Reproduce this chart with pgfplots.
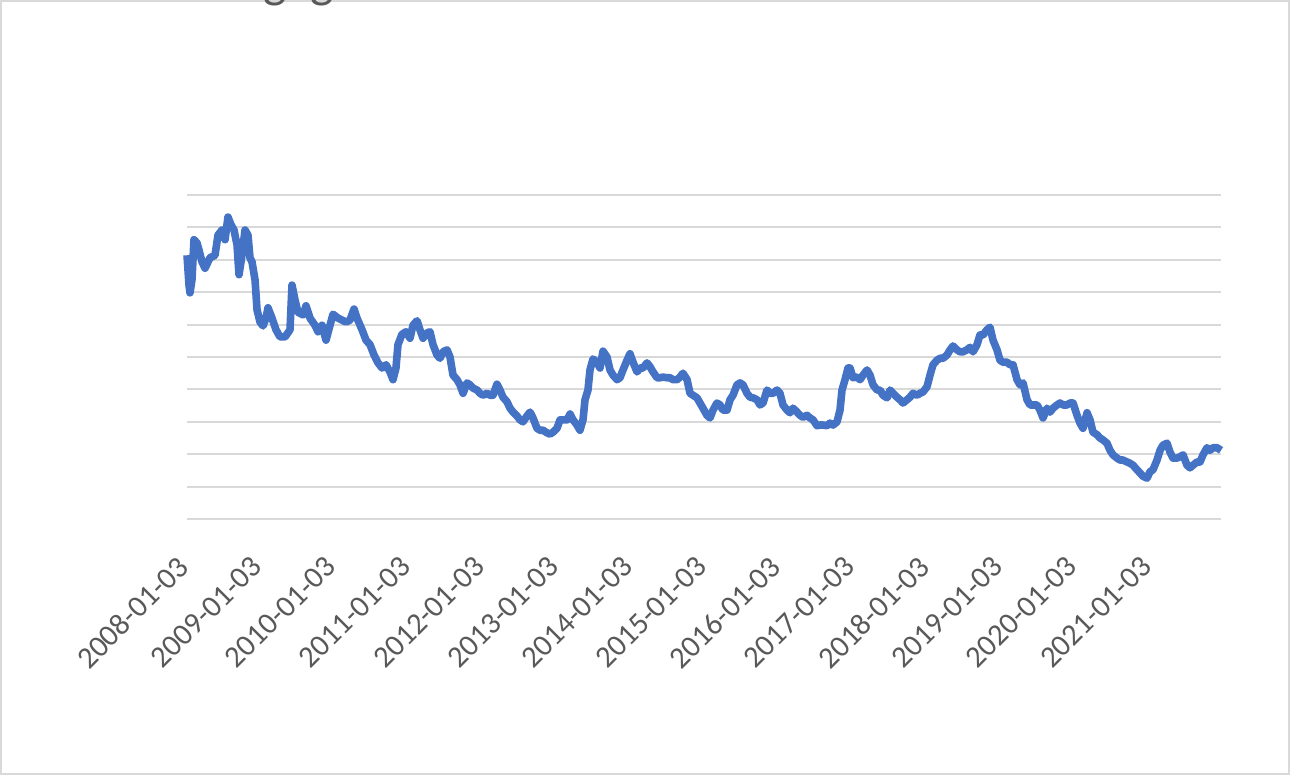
\documentclass[border=0pt]{standalone}
\usepackage{pgfplots}
\pgfplotsset{compat=1.18}
\usepackage{fontspec}
\setmainfont{Carlito}
\definecolor{lineblue}{HTML}{4472C4}
\definecolor{gridgray}{HTML}{D9D9D9}
\definecolor{textgray}{HTML}{595959}
\pgfplotstableread{
year rate
2008.000 6.07
2008.027 5.61
2008.040 5.49
2008.067 5.69
2008.094 6.31
2008.135 6.26
2008.162 6.15
2008.202 5.97
2008.243 5.87
2008.310 6.03
2008.378 6.07
2008.418 6.38
2008.472 6.46
2008.513 6.31
2008.553 6.66
2008.594 6.54
2008.634 6.46
2008.675 6.23
2008.702 5.77
2008.742 6.07
2008.783 6.46
2008.823 6.38
2008.850 6.03
2008.877 5.97
2008.918 5.69
2008.945 5.23
2008.985 5.04
2009.026 4.98
2009.066 5.10
2009.093 5.26
2009.147 5.10
2009.201 4.92
2009.255 4.81
2009.323 4.81
2009.390 4.92
2009.417 5.61
2009.457 5.38
2009.498 5.19
2009.565 5.15
2009.606 5.29
2009.660 5.10
2009.727 4.99
2009.768 4.89
2009.822 4.99
2009.876 4.76
2009.930 4.99
2009.970 5.16
2010.038 5.10
2010.092 5.07
2010.146 5.04
2010.200 5.07
2010.254 5.24
2010.294 5.10
2010.362 4.92
2010.416 4.76
2010.470 4.69
2010.524 4.53
2010.578 4.41
2010.632 4.33
2010.686 4.38
2010.739 4.27
2010.780 4.15
2010.820 4.33
2010.847 4.69
2010.901 4.85
2010.955 4.89
2011.009 4.79
2011.050 4.99
2011.104 5.06
2011.144 4.92
2011.185 4.79
2011.239 4.87
2011.279 4.89
2011.320 4.69
2011.374 4.53
2011.414 4.48
2011.455 4.58
2011.509 4.61
2011.549 4.50
2011.590 4.22
2011.644 4.15
2011.684 4.07
2011.725 3.94
2011.779 4.10
2011.819 4.07
2011.860 4.02
2011.914 3.99
2011.954 3.94
2011.994 3.91
2012.049 3.94
2012.089 3.91
2012.129 3.91
2012.183 4.08
2012.224 3.99
2012.264 3.88
2012.318 3.81
2012.359 3.71
2012.399 3.65
2012.453 3.59
2012.494 3.53
2012.534 3.50
2012.588 3.59
2012.629 3.65
2012.669 3.56
2012.723 3.40
2012.764 3.37
2012.804 3.37
2012.858 3.33
2012.899 3.31
2012.939 3.34
2012.993 3.40
2013.034 3.53
2013.074 3.53
2013.128 3.53
2013.169 3.62
2013.209 3.53
2013.263 3.45
2013.303 3.37
2013.344 3.53
2013.371 3.84
2013.411 3.99
2013.438 4.30
2013.479 4.47
2013.533 4.42
2013.573 4.33
2013.614 4.59
2013.668 4.50
2013.708 4.30
2013.749 4.22
2013.803 4.15
2013.843 4.18
2013.884 4.30
2013.938 4.45
2013.978 4.55
2014.019 4.42
2014.073 4.27
2014.113 4.33
2014.154 4.33
2014.208 4.41
2014.248 4.35
2014.289 4.27
2014.343 4.18
2014.383 4.18
2014.424 4.19
2014.478 4.18
2014.518 4.18
2014.558 4.15
2014.613 4.15
2014.653 4.19
2014.693 4.25
2014.748 4.15
2014.788 3.94
2014.828 3.91
2014.882 3.87
2014.923 3.79
2014.963 3.71
2015.017 3.60
2015.058 3.56
2015.098 3.68
2015.152 3.79
2015.193 3.76
2015.233 3.68
2015.287 3.68
2015.328 3.84
2015.368 3.91
2015.422 4.07
2015.463 4.10
2015.503 4.07
2015.557 3.94
2015.598 3.88
2015.638 3.87
2015.692 3.84
2015.733 3.76
2015.773 3.79
2015.827 3.99
2015.867 3.94
2015.908 3.94
2015.962 3.99
2016.002 3.94
2016.043 3.76
2016.097 3.68
2016.137 3.64
2016.178 3.71
2016.232 3.65
2016.272 3.60
2016.313 3.57
2016.367 3.60
2016.407 3.56
2016.448 3.53
2016.502 3.44
2016.542 3.45
2016.583 3.45
2016.637 3.44
2016.677 3.48
2016.718 3.45
2016.772 3.50
2016.812 3.68
2016.839 3.99
2016.880 4.15
2016.920 4.33
2016.947 4.33
2016.988 4.18
2017.042 4.19
2017.082 4.15
2017.123 4.22
2017.177 4.30
2017.217 4.22
2017.258 4.07
2017.312 3.99
2017.352 3.99
2017.392 3.91
2017.447 3.87
2017.487 3.99
2017.527 3.94
2017.581 3.88
2017.622 3.84
2017.662 3.79
2017.716 3.84
2017.757 3.88
2017.797 3.94
2017.851 3.91
2017.892 3.94
2017.932 3.96
2017.986 4.04
2018.027 4.22
2018.067 4.38
2018.121 4.45
2018.162 4.48
2018.202 4.48
2018.256 4.53
2018.297 4.61
2018.337 4.67
2018.391 4.61
2018.432 4.58
2018.472 4.58
2018.526 4.61
2018.567 4.65
2018.607 4.58
2018.661 4.69
2018.701 4.84
2018.742 4.84
2018.796 4.92
2018.836 4.96
2018.877 4.76
2018.931 4.61
2018.971 4.45
2019.012 4.42
2019.066 4.42
2019.106 4.38
2019.147 4.38
2019.201 4.15
2019.241 4.07
2019.282 4.10
2019.336 3.84
2019.376 3.76
2019.417 3.76
2019.471 3.76
2019.511 3.68
2019.552 3.56
2019.606 3.71
2019.646 3.65
2019.687 3.71
2019.741 3.76
2019.781 3.79
2019.822 3.76
2019.876 3.76
2019.916 3.79
2019.957 3.79
2020.011 3.60
2020.051 3.48
2020.091 3.40
2020.146 3.64
2020.186 3.53
2020.226 3.34
2020.280 3.30
2020.321 3.25
2020.361 3.22
2020.415 3.17
2020.456 3.06
2020.496 2.99
2020.550 2.94
2020.591 2.91
2020.631 2.91
2020.685 2.88
2020.726 2.86
2020.766 2.83
2020.820 2.76
2020.861 2.71
2020.901 2.66
2020.955 2.63
2020.996 2.73
2021.036 2.76
2021.090 2.91
2021.131 3.06
2021.171 3.14
2021.225 3.17
2021.266 3.03
2021.306 2.94
2021.360 2.94
2021.400 2.96
2021.441 2.99
2021.495 2.83
2021.535 2.79
2021.576 2.83
2021.630 2.88
2021.670 2.88
2021.711 2.99
2021.765 3.10
2021.805 3.06
2021.846 3.10
2021.900 3.10
2021.954 3.06
}\ratedata
\begin{document}
\begin{tikzpicture}[x=1bp,y=1bp]
\useasboundingbox (0,0) rectangle (645,387.5);
\draw[gridgray, line width=1.25bp] (0.6,0.6) rectangle (644.4,386.9);
\node[anchor=base west, inner sep=0pt, font=\fontsize{24.8bp}{30bp}\selectfont, text=textgray] at (80.5,388.85) {Mortgage};
\begin{axis}[
  at={(93.5bp,128bp)}, anchor=south west,
  scale only axis, width=517bp, height=162bp,
  xmin=2008, xmax=2021.954, ymin=2, ymax=7,
  ytick={2,2.5,3,3.5,4,4.5,5,5.5,6,6.5,7}, yticklabels={},
  ymajorgrids, grid style={gridgray, line width=1bp},
  axis line style={draw=none}, major tick length=0pt,
  xtick={2008,2009,2010,2011,2012,2013,2014,2015,2016,2017,2018,2019,2020,2021},
  xticklabels={2008-01-03,2009-01-03,2010-01-03,2011-01-03,2012-01-03,2013-01-03,2014-01-03,2015-01-03,2016-01-03,2017-01-03,2018-01-03,2019-01-03,2020-01-03,2021-01-03},
  xticklabel style={xshift=-2bp, yshift=-21.3bp, rotate=45, anchor=east, inner sep=0pt, font=\fontsize{15.3bp}{18bp}\selectfont, text=textgray},
  clip=false]
\addplot[lineblue, line width=3.8bp, line join=round, no marks] table[x=year, y=rate] {\ratedata};
\end{axis}
\end{tikzpicture}
\end{document}
